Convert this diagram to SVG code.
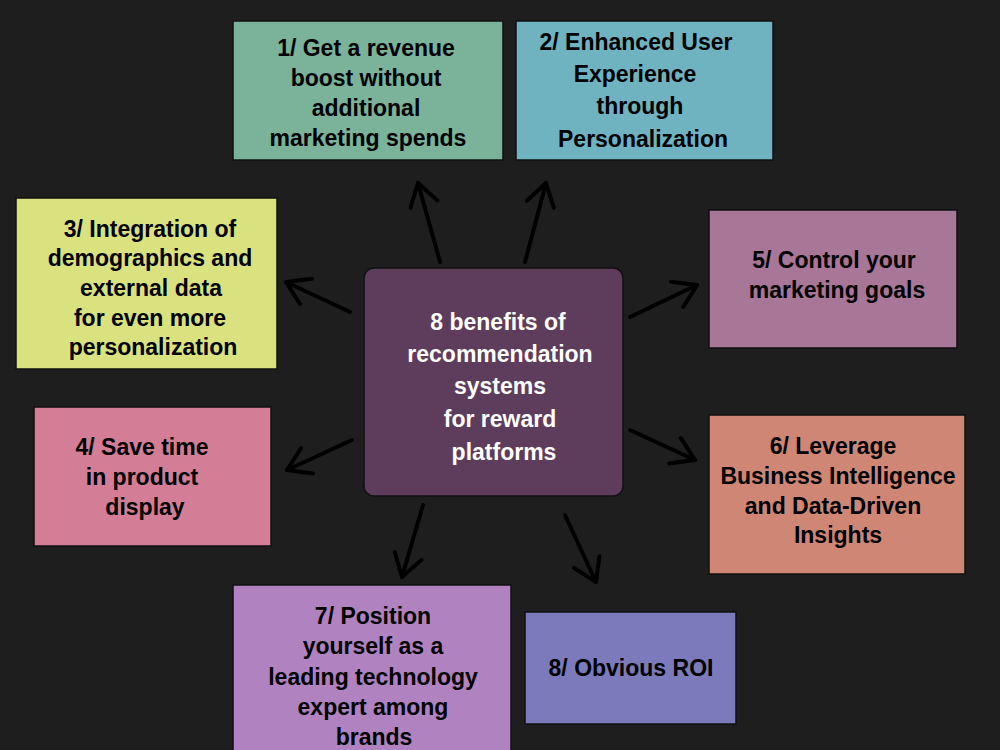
<svg xmlns="http://www.w3.org/2000/svg" width="1000" height="750" viewBox="0 0 1000 750">
<defs>
<marker id="ah" markerUnits="userSpaceOnUse" markerWidth="40" markerHeight="40" refX="26" refY="20" orient="auto">
<path d="M4 6 L26 20 L4 34" fill="none" stroke="#000" stroke-width="4" stroke-linecap="round" stroke-linejoin="round"/>
</marker>
<style>
.box{stroke:#111;stroke-width:1.5}
.t{font-family:"Liberation Sans",Arial,sans-serif;font-weight:bold;font-size:23px;fill:#000;text-anchor:middle}
.w{fill:#fff}
.arr{stroke:#000;stroke-width:4;stroke-linecap:round;fill:none;marker-end:url(#ah)}
</style>
</defs>
<rect width="1000" height="750" fill="#1e1e1e"/>
<g id="connectors">
<line class="arr" x1="440" y1="262" x2="418" y2="183"/>
<line class="arr" x1="525" y1="262" x2="546" y2="183"/>
<line class="arr" x1="350" y1="312" x2="286" y2="282"/>
<line class="arr" x1="352" y1="440" x2="287" y2="470"/>
<line class="arr" x1="630" y1="317" x2="697" y2="285"/>
<line class="arr" x1="630" y1="430" x2="695" y2="460"/>
<line class="arr" x1="423" y1="505" x2="402" y2="577"/>
<line class="arr" x1="565" y1="515" x2="596" y2="582"/>
</g>
<g id="center">
<rect class="box" x="364" y="268" width="259" height="228" rx="10" fill="#5e3c5c"/>
<text class="t w" x="498" y="330">8 benefits of</text>
<text class="t w" x="500" y="362">recommendation</text>
<text class="t w" x="500" y="394">systems</text>
<text class="t w" x="500" y="427">for reward</text>
<text class="t w" x="504" y="460">platforms</text>
</g>
<g id="n1">
<rect class="box" x="233" y="21" width="270" height="139" fill="#7ab39a"/>
<text class="t" x="366" y="56">1/ Get a revenue</text>
<text class="t" x="366" y="86">boost without</text>
<text class="t" x="366" y="116">additional</text>
<text class="t" x="368" y="146">marketing spends</text>
</g>
<g id="n2">
<rect class="box" x="516" y="21" width="257" height="139" fill="#6fb3c0"/>
<text class="t" x="636" y="50">2/ Enhanced User</text>
<text class="t" x="635" y="82">Experience</text>
<text class="t" x="640" y="114">through</text>
<text class="t" x="643" y="147">Personalization</text>
</g>
<g id="n3">
<rect class="box" x="16" y="198" width="261" height="171" fill="#d9e27e"/>
<text class="t" x="150" y="237">3/ Integration of</text>
<text class="t" x="150" y="266">demographics and</text>
<text class="t" x="151" y="296">external data</text>
<text class="t" x="150" y="326">for even more</text>
<text class="t" x="153" y="355">personalization</text>
</g>
<g id="n4">
<rect class="box" x="34" y="407" width="237" height="139" fill="#d47d96"/>
<text class="t" x="142" y="455">4/ Save time</text>
<text class="t" x="142" y="485">in product</text>
<text class="t" x="145" y="515">display</text>
</g>
<g id="n5">
<rect class="box" x="709" y="210" width="248" height="138" fill="#a87697"/>
<text class="t" x="834" y="268">5/ Control your</text>
<text class="t" x="837" y="298">marketing goals</text>
</g>
<g id="n6">
<rect class="box" x="709" y="415" width="256" height="159" fill="#d08674"/>
<text class="t" x="833" y="454">6/ Leverage</text>
<text class="t" x="838" y="484">Business Intelligence</text>
<text class="t" x="833" y="514">and Data-Driven</text>
<text class="t" x="838" y="543">Insights</text>
</g>
<g id="n7">
<rect class="box" x="233" y="585" width="278" height="175" fill="#b083c0"/>
<text class="t" x="373" y="624">7/ Position</text>
<text class="t" x="373" y="654">yourself as a</text>
<text class="t" x="373" y="685">leading technology</text>
<text class="t" x="373" y="715">expert among</text>
<text class="t" x="374" y="745">brands</text>
</g>
<g id="n8">
<rect class="box" x="525" y="612" width="211" height="112" fill="#7b7bbb"/>
<text class="t" x="631" y="676">8/ Obvious ROI</text>
</g>
</svg>
